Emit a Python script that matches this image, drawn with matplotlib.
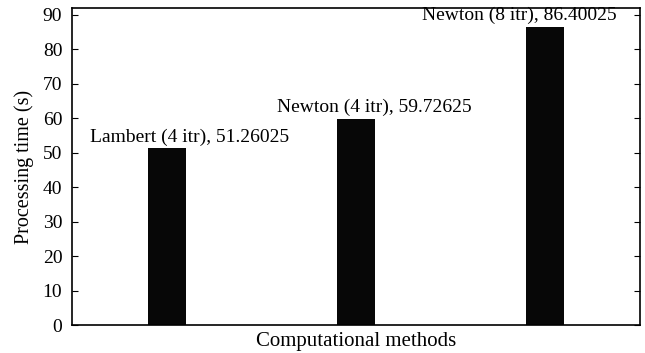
import numpy as np
import matplotlib.pyplot as plt

plt.rcParams['font.family'] = ['Liberation Serif', 'DejaVu Serif']

# data
methods = ['Lambert (4 itr)', 'Newton (4 itr)', 'Newton (8 itr)']
times = [51.26025, 59.72625, 86.40025]
labels = ['Lambert (4 itr), 51.26025', 'Newton (4 itr), 59.72625', 'Newton (8 itr), 86.40025']

fig = plt.figure(figsize=(6.45, 3.53), dpi=100)
ax = fig.add_axes([72/645, 1-325/353, 568/645, 317/353])

x = np.arange(1, len(times)+1)
ax.bar(x, times, width=0.2, color='#070707')

# label offsets
dx = [0.12, 0.095, -0.14]
for xi, t, lab, d in zip(x, times, labels, dx):
    ax.text(xi + d, t + 2.0, lab, ha='center', va='baseline', fontsize=14)

ax.set_xlim(0.5, 3.5)
ax.set_ylim(0, 92)
ax.set_yticks(np.arange(0, 91, 10))
ax.set_xticks([])
ax.tick_params(axis='y', direction='in', left=True, right=True, length=4, labelsize=14, pad=7)
for s in ax.spines.values():
    s.set_linewidth(1.2)
ax.set_xlabel('Computational methods', fontsize=15, labelpad=5)
ax.set_ylabel('Processing time (s)', fontsize=14.5, labelpad=6)

fig.savefig('out.png', dpi=100)
